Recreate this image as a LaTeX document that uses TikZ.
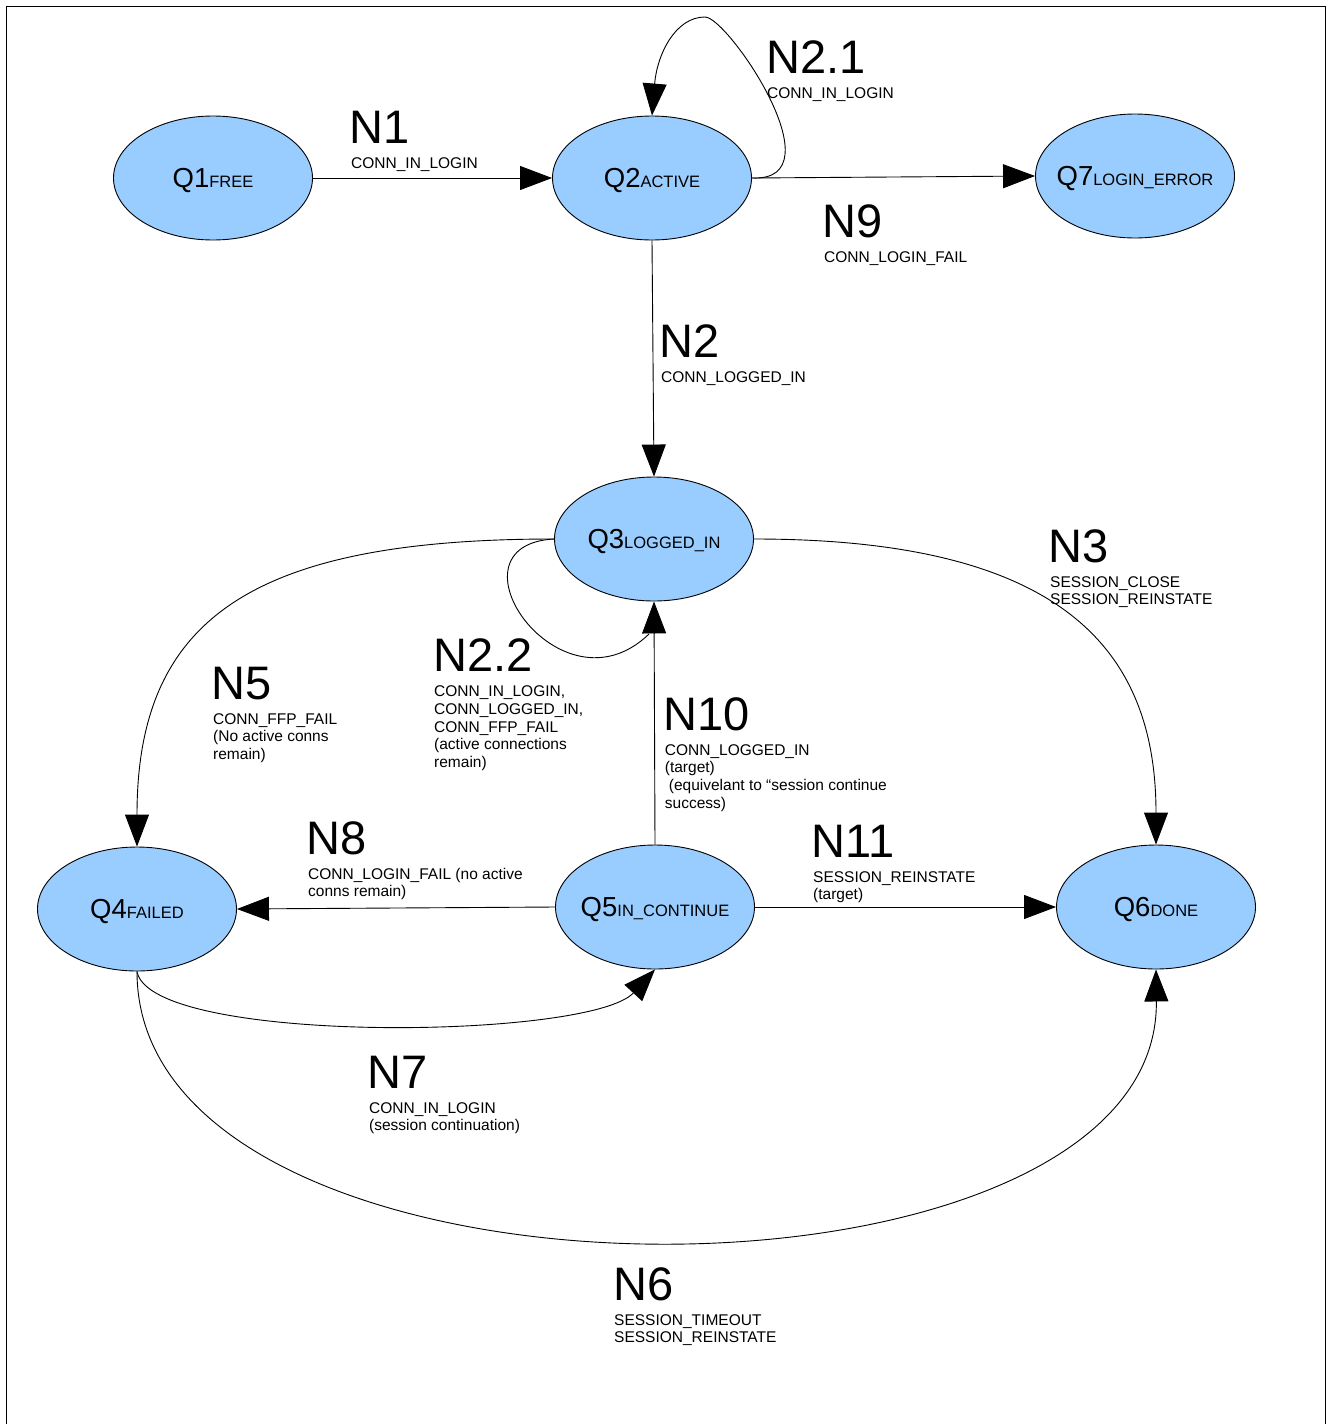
\documentclass[tikz,border=0pt]{standalone}
\usepackage{fontspec}
\setmainfont{Liberation Sans}
\usetikzlibrary{arrows.meta,shapes.geometric}
\definecolor{stfill}{HTML}{99CCFF}
\tikzset{
  state/.style={ellipse, draw=black, line width=0.9pt, fill=stfill,
    minimum width=199pt, minimum height=124pt, inner sep=0pt,
    text height=19pt, text depth=0pt},
  edge/.style={draw=black, line width=0.9pt, -{Triangle[length=32pt,width=24pt]}},
  plainedge/.style={draw=black, line width=0.9pt},
  biglbl/.style={anchor=base west, inner sep=0pt, font=\fontsize{47}{47}\selectfont},
  smalllbl/.style={anchor=north west, inner sep=0pt, align=left, font=\fontsize{15.5}{17.7}\selectfont},
  frameline/.style={draw=black, line width=1.5pt},
}
\newcommand{\qlab}[2]{\makebox[0pt]{{\fontsize{27.5}{27.5}\selectfont #1}{\fontsize{16.5}{16.5}\selectfont #2}}}
\newcommand{\fs}{\rule{0pt}{12pt}}
\begin{document}
\begin{tikzpicture}[x=1pt,y=-1pt]
\useasboundingbox (0,0) rectangle (1328,1424);
% frame
\coordinate (fbl) at (6.5,1424);
\coordinate (ftl) at (6.5,6.5);
\coordinate (ftr) at (1325.5,6.5);
\coordinate (fbr) at (1325.5,1424);
\draw[frameline] (fbl) -- (ftl) -- (ftr) -- (fbr);

% states
\node[state] (q1) at (213,178) {\qlab{Q1}{FREE}};
\node[state] (q2) at (652,178) {\qlab{Q2}{ACTIVE}};
\node[state] (q7) at (1135,176) {\qlab{Q7}{LOGIN\_ERROR}};
\node[state] (q3) at (654,539) {\qlab{Q3}{LOGGED\_IN}};
\node[state] (q4) at (137,909) {\qlab{Q4}{FAILED}};
\node[state] (q5) at (655,907) {\qlab{Q5}{IN\_CONTINUE}};
\node[state] (q6) at (1156,907) {\qlab{Q6}{DONE}};

% edges
\draw[edge] (q1.east) -- (q2.west);
\coordinate (n21top) at (705,17);
\draw[edge] (q2.east) .. controls (840,182) and (728,17) .. (n21top)
   .. controls (675,17) and (657,55) .. (q2.north);
\draw[edge] (q2.east) -- (q7.west);
\draw[edge] (q2.south) -- (q3.north);
\draw[edge] (q3.east) .. controls (1050,539) and (1156,640) .. (q6.north);
\draw[edge] (q3.west) .. controls (250,539) and (137,620) .. (q4.north);
\coordinate (n22end) at (649,634);
\draw[plainedge] (q3.west) .. controls (440,545) and (560,720) .. (n22end);
\draw[edge] (q5.north) -- (q3.south);
\draw[edge] (q5.west) -- (q4.east);
\draw[edge] (q5.east) -- (q6.west);
\draw[edge] (q4.south) .. controls (150,1045) and (590,1040) .. (q5.south);
\draw[edge] (q4.south) .. controls (137,1330) and (1160,1330) .. (q6.south);

% labels
\node[biglbl] (l1) at (349.5,143) {N1};
\node[smalllbl] (l1s) at (351,156) {\fs CONN\_IN\_LOGIN};
\node[biglbl] (l21) at (766,73) {N2.1};
\node[smalllbl] (l21s) at (767,86) {\fs CONN\_IN\_LOGIN};
\node[biglbl] (l9) at (822.5,237) {N9};
\node[smalllbl] (l9s) at (824,250) {\fs CONN\_LOGIN\_FAIL};
\node[biglbl] (l2) at (659.5,357) {N2};
\node[smalllbl] (l2s) at (661,370) {\fs CONN\_LOGGED\_IN};
\node[biglbl] (l3) at (1048.5,562) {N3};
\node[smalllbl] (l3s) at (1050,575) {\fs SESSION\_CLOSE\\SESSION\_REINSTATE};
\node[biglbl] (l5) at (211.5,699) {N5};
\node[smalllbl] (l5s) at (213,712) {\fs CONN\_FFP\_FAIL\\(No active conns\\remain)};
\node[biglbl] (l22) at (433,671.5) {N2.2};
\node[smalllbl] (l22s) at (434,684.5) {\fs CONN\_IN\_LOGIN,\\CONN\_LOGGED\_IN,\\CONN\_FFP\_FAIL\\(active connections\\remain)};
\node[biglbl] (l10) at (663,730) {N10};
\node[smalllbl] (l10s) at (664.7,743) {\fs CONN\_LOGGED\_IN\\(target)\\\hspace*{4pt}(equivelant to “session continue\\success)};
\node[biglbl] (l8) at (306.5,854) {N8};
\node[smalllbl] (l8s) at (308,867) {\fs CONN\_LOGIN\_FAIL (no active\\conns remain)};
\node[biglbl] (l11) at (811.5,857) {N11};
\node[smalllbl] (l11s) at (813,870) {\fs SESSION\_REINSTATE\\(target)};
\node[biglbl] (l7) at (367.5,1088) {N7};
\node[smalllbl] (l7s) at (369,1101) {\fs CONN\_IN\_LOGIN\\(session continuation)};
\node[biglbl] (l6) at (613,1300) {N6};
\node[smalllbl] (l6s) at (614,1313) {\fs SESSION\_TIMEOUT\\SESSION\_REINSTATE};
\end{tikzpicture}
\end{document}
